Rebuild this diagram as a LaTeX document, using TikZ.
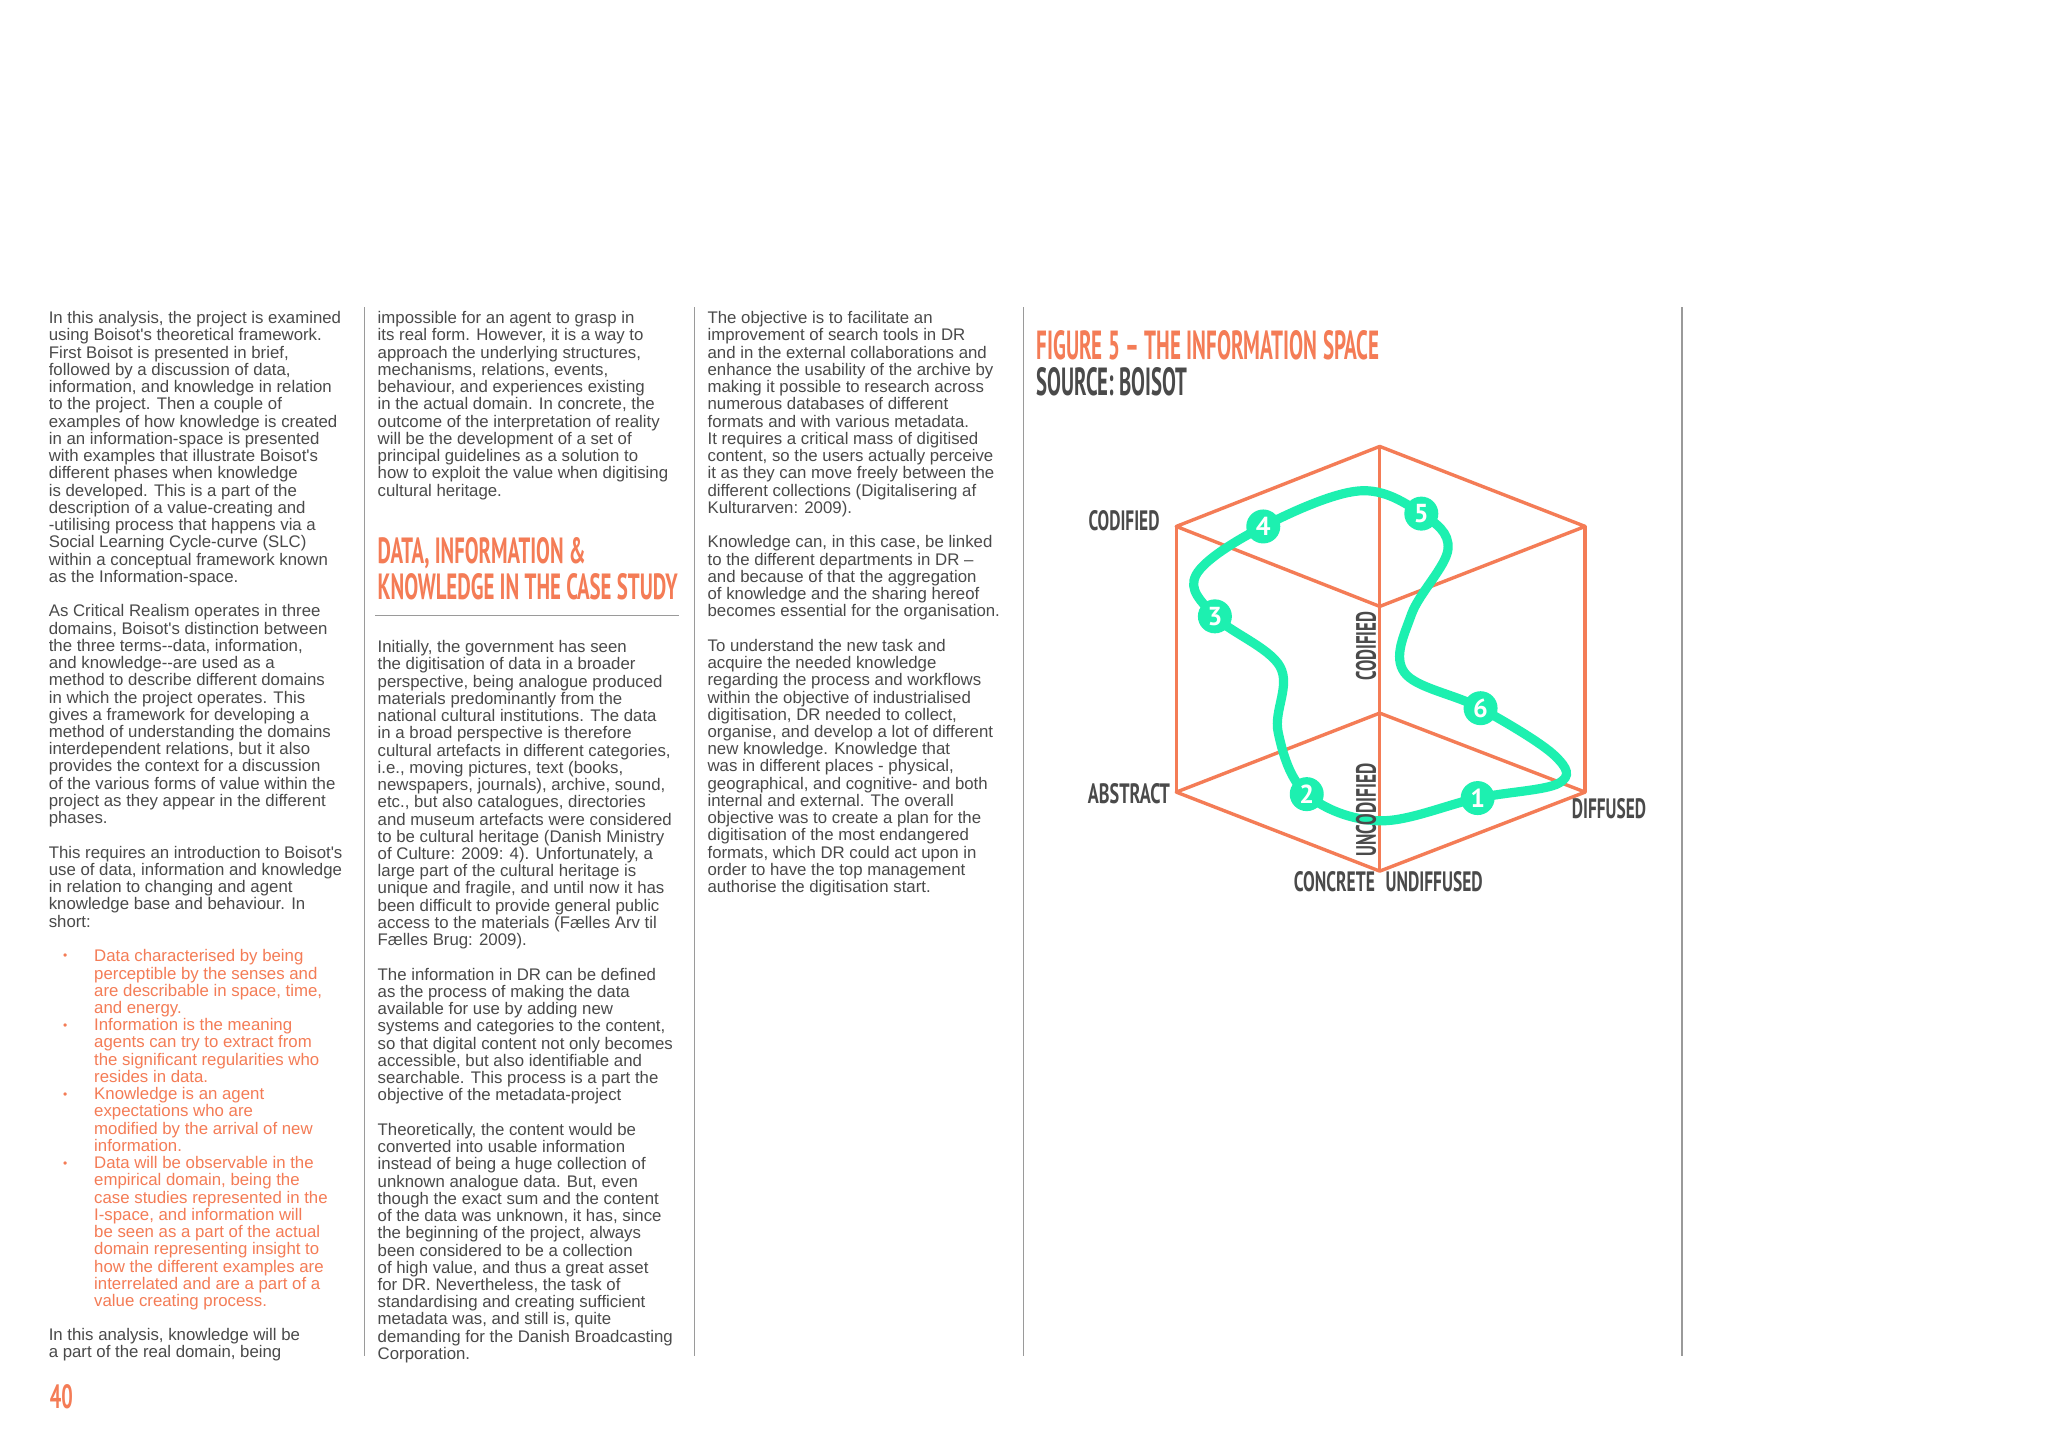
\documentclass[tikz,border=0pt]{standalone}
\usepackage{fontspec}
\usepackage{graphicx}
\newfontfamily\bodyfont{Liberation Sans}
\newfontfamily\headfont{PT Sans}
\definecolor{orng}{HTML}{F47C56}
\definecolor{grn}{HTML}{1DF0B0}
\definecolor{txt}{HTML}{4A4A4A}
\definecolor{rulec}{HTML}{9A9A9A}
\newcommand{\hd}[3]{\resizebox{#1pt}{#2pt}{\headfont\bfseries #3}}
\newcommand{\bl}{\\[8.62pt]}
\tikzset{
 body/.style={anchor=north west,inner sep=0pt,align=left,text=txt,font=\bodyfont\fontsize{8.4}{8.62}\selectfont},
 bul/.style={body,text=orng},
 sep/.style={draw=rulec,line width=0.6pt},
 cube/.style={draw=orng,line width=1.7pt,line join=round},
 lab/.style={inner sep=0pt,text=txt},
 mk/.style={circle,fill=grn,inner sep=0pt,minimum size=17pt,text=white,font=\headfont\bfseries\fontsize{13}{13}\selectfont}
}
\begin{document}
\begin{tikzpicture}[x=0.5pt,y=-0.5pt]
\path[use as bounding box,fill=white] (0,0) rectangle (2048,1448);
\begin{scope}[scale=0.9877]
% column separators
\draw[sep] (369,311) -- (369,1373);
\draw[sep] (703,311) -- (703,1373);
\draw[sep] (1036,311) -- (1036,1373);
\draw[sep] (1703,311) -- (1703,1373);
% column 1
\node[body] (c1a) at (49,315) {In this analysis, the project is examined\\
using Boisot's theoretical framework.\\
First Boisot is presented in brief,\\
followed by a discussion of data,\\
information, and knowledge in relation\\
to the project. Then a couple of\\
examples of how knowledge is created\\
in an information-space is presented\\
with examples that illustrate Boisot's\\
different phases when knowledge\\
is developed. This is a part of the\\
description of a value-creating and\\
-utilising process that happens via a\\
Social Learning Cycle-curve (SLC)\\
within a conceptual framework known\\
as the Information-space.\bl
As Critical Realism operates in three\\
domains, Boisot's distinction between\\
the three terms--data, information,\\
and knowledge--are used as a\\
method to describe different domains\\
in which the project operates. This\\
gives a framework for developing a\\
method of understanding the domains\\
interdependent relations, but it also\\
provides the context for a discussion\\
of the various forms of value within the\\
project as they appear in the different\\
phases.\bl
This requires an introduction to Boisot's\\
use of data, information and knowledge\\
in relation to changing and agent\\
knowledge base and behaviour. In\\
short:};
\node[bul] (c1b) at (95,961) {Data characterised by being\\
perceptible by the senses and\\
are describable in space, time,\\
and energy.\\
Information is the meaning\\
agents can try to extract from\\
the significant regularities who\\
resides in data.\\
Knowledge is an agent\\
expectations who are\\
modified by the arrival of new\\
information.\\
Data will be observable in the\\
empirical domain, being the\\
case studies represented in the\\
I-space, and information will\\
be seen as a part of the actual\\
domain representing insight to\\
how the different examples are\\
interrelated and are a part of a\\
value creating process.};
\foreach \yy/\nm in {969/b1,1039/b2,1109/b3,1179/b4}
  \node[text=orng,inner sep=0pt,font=\bodyfont\fontsize{6}{6}\selectfont] (\nm) at (66,\yy) {•};
\node[body] (c1c) at (49,1344) {In this analysis, knowledge will be\\
a part of the real domain, being};
% column 2
\node[body] (c2a) at (382,315) {impossible for an agent to grasp in\\
its real form. However, it is a way to\\
approach the underlying structures,\\
mechanisms, relations, events,\\
behaviour, and experiences existing\\
in the actual domain. In concrete, the\\
outcome of the interpretation of reality\\
will be the development of a set of\\
principal guidelines as a solution to\\
how to exploit the value when digitising\\
cultural heritage.};
\node[inner sep=0pt,anchor=west,text=orng] (h1) at (382,560) {\hd{104}{13}{DATA, INFORMATION \&}};
\node[inner sep=0pt,anchor=west,text=orng] (h2) at (382,594) {\hd{150}{13}{KNOWLEDGE IN THE CASE STUDY}};
\draw[sep] (380,623) -- (687,623);
\node[body] (c2b) at (382,648) {Initially, the government has seen\\
the digitisation of data in a broader\\
perspective, being analogue produced\\
materials predominantly from the\\
national cultural institutions. The data\\
in a broad perspective is therefore\\
cultural artefacts in different categories,\\
i.e., moving pictures, text (books,\\
newspapers, journals), archive, sound,\\
etc., but also catalogues, directories\\
and museum artefacts were considered\\
to be cultural heritage (Danish Ministry\\
of Culture: 2009: 4). Unfortunately, a\\
large part of the cultural heritage is\\
unique and fragile, and until now it has\\
been difficult to provide general public\\
access to the materials (Fælles Arv til\\
Fælles Brug: 2009).\bl
The information in DR can be defined\\
as the process of making the data\\
available for use by adding new\\
systems and categories to the content,\\
so that digital content not only becomes\\
accessible, but also identifiable and\\
searchable. This process is a part the\\
objective of the metadata-project\bl
Theoretically, the content would be\\
converted into usable information\\
instead of being a huge collection of\\
unknown analogue data. But, even\\
though the exact sum and the content\\
of the data was unknown, it has, since\\
the beginning of the project, always\\
been considered to be a collection\\
of high value, and thus a great asset\\
for DR. Nevertheless, the task of\\
standardising and creating sufficient\\
metadata was, and still is, quite\\
demanding for the Danish Broadcasting\\
Corporation.};
% column 3
\node[body] (c3) at (716,315) {The objective is to facilitate an\\
improvement of search tools in DR\\
and in the external collaborations and\\
enhance the usability of the archive by\\
making it possible to research across\\
numerous databases of different\\
formats and with various metadata.\\
It requires a critical mass of digitised\\
content, so the users actually perceive\\
it as they can move freely between the\\
different collections (Digitalisering af\\
Kulturarven: 2009).\bl
Knowledge can, in this case, be linked\\
to the different departments in DR –\\
and because of that the aggregation\\
of knowledge and the sharing hereof\\
becomes essential for the organisation.\bl
To understand the new task and\\
acquire the needed knowledge\\
regarding the process and workflows\\
within the objective of industrialised\\
digitisation, DR needed to collect,\\
organise, and develop a lot of different\\
new knowledge. Knowledge that\\
was in different places - physical,\\
geographical, and cognitive- and both\\
internal and external. The overall\\
objective was to create a plan for the\\
digitisation of the most endangered\\
formats, which DR could act upon in\\
order to have the top management\\
authorise the digitisation start.};
% figure titles
\node[inner sep=0pt,anchor=west,text=orng] (ft) at (1049,350) {\hd{171.5}{14.5}{FIGURE 5 – THE INFORMATION SPACE}};
\node[inner sep=0pt,anchor=west,text=txt] (fs) at (1049,387) {\hd{75.5}{14}{SOURCE: BOISOT}};
% cube
\coordinate (T) at (1397,452);
\coordinate (UL) at (1191,533);
\coordinate (UR) at (1605,533);
\coordinate (CU) at (1397,614);
\coordinate (LC) at (1397,722);
\coordinate (LL) at (1191,802);
\coordinate (LR) at (1605,802);
\coordinate (B) at (1397,882);
\draw[cube] (T) -- (UL) -- (CU) -- (UR) -- cycle;
\draw[cube] (LL) -- (LC) -- (LR) -- (B) -- cycle;
\draw[cube] (UL) -- (LL) (UR) -- (LR) (T) -- (B);
% curve
\draw[grn,line width=4.6pt] plot[smooth cycle,tension=0.6] coordinates {
(1578,793) (1496,808) (1397,831) (1323,804) (1294,741) (1296,675) (1230,624) (1211,582)
(1279,533) (1376,497) (1439,520) (1466,556) (1429,622) (1422,681) (1499,717) (1574,765)};
\foreach \p/\n in {{(1496,808)}/1,{(1323,804)}/2,{(1230,624)}/3,{(1279,533)}/4,{(1439,520)}/5,{(1499,717)}/6}
  \node[mk] (m\n) at \p {\n};
% labels
\node[lab] (lcod) at (1138,527) {\hd{35.5}{10}{CODIFIED}};
\node[lab] (labs) at (1143,804) {\hd{41}{10}{ABSTRACT}};
\node[lab] (ldif) at (1629,819) {\hd{37}{10}{DIFFUSED}};
\node[lab] (lcon) at (1351,893) {\hd{40.5}{10}{CONCRETE}};
\node[lab] (lund) at (1452,893) {\hd{48.5}{10}{UNDIFFUSED}};
\node[lab,rotate=90] (lcod2) at (1383,654) {\hd{34.5}{10}{CODIFIED}};
\node[lab,rotate=90] (lunc) at (1383,820) {\hd{46.5}{10}{UNCODIFIED}};
% page number
\node[inner sep=0pt,anchor=west,text=orng] (pg) at (50,1414) {\hd{11.5}{12}{40}};
\end{scope}
\end{tikzpicture}
\end{document}
